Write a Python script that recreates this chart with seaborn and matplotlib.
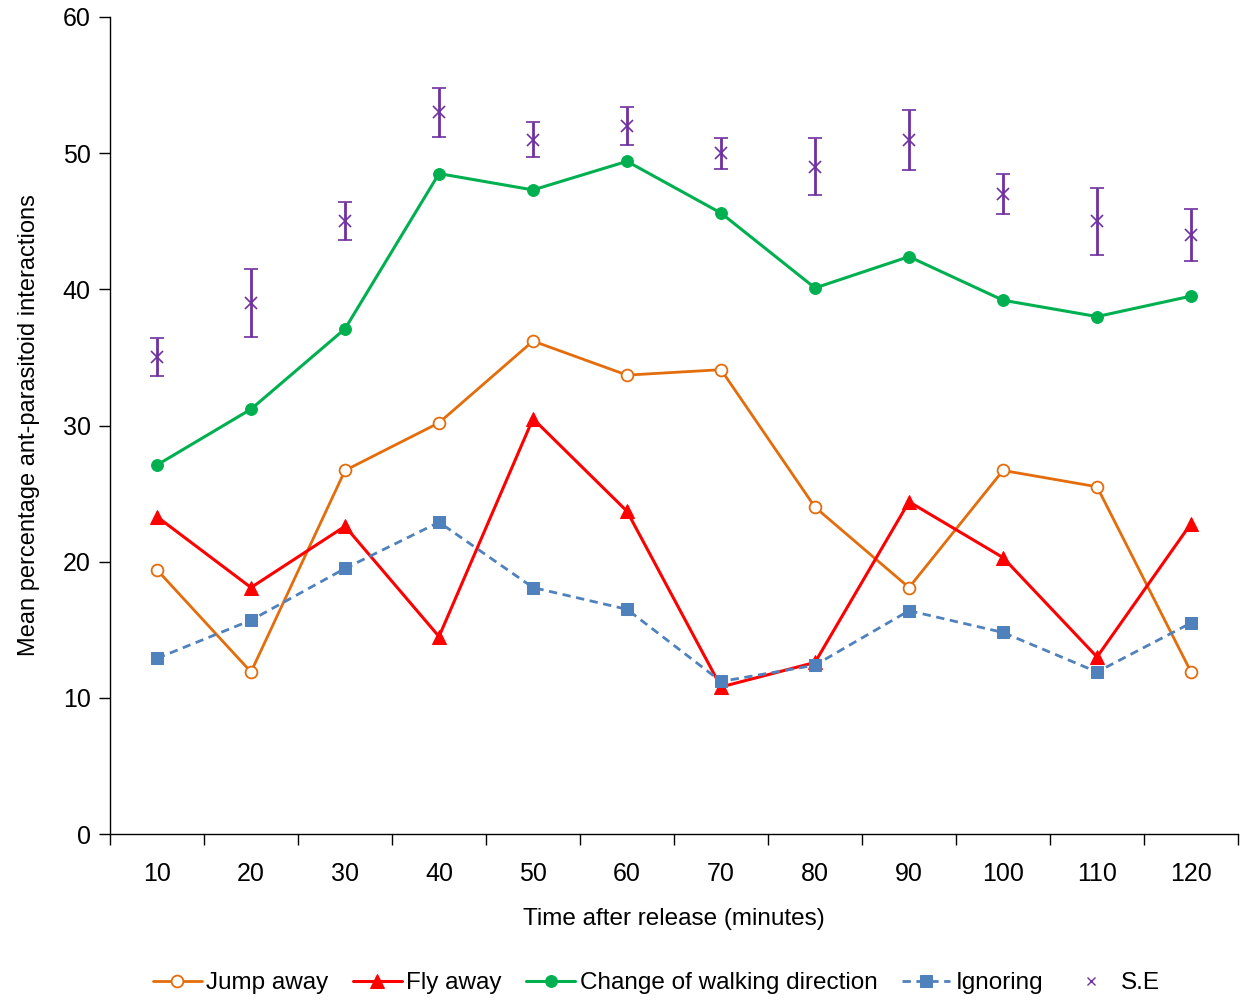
import pandas as pd
import matplotlib.pyplot as plt
from matplotlib.lines import Line2D
import seaborn as sns

# valores
minutos = ['10', '20', '30', '40', '50', '60', '70', '80', '90', '100', '110', '120']
jump_away = [19.4, 11.9, 26.7, 30.2, 36.2, 33.7, 34.1, 24.0, 18.1, 26.7, 25.5, 11.9]
fly_away = [23.3, 18.1, 22.6, 14.5, 30.5, 23.7, 10.8, 12.6, 24.4, 20.3, 13.0, 22.8]
change_dir = [27.1, 31.2, 37.1, 48.5, 47.3, 49.4, 45.6, 40.1, 42.4, 39.2, 38.0, 39.5]
ignoring = [12.9, 15.7, 19.5, 22.9, 18.1, 16.5, 11.2, 12.4, 16.4, 14.8, 11.9, 15.5]
se_media = [35, 39, 45, 53, 51, 52, 50, 49, 51, 47, 45, 44]
se_erro = [1.4, 2.5, 1.4, 1.8, 1.3, 1.4, 1.15, 2.1, 2.2, 1.45, 2.45, 1.9]

pos = list(range(len(minutos)))
df = pd.DataFrame({'pos': pos, 'jump': jump_away, 'fly': fly_away,
                   'change': change_dir, 'ign': ignoring})

sns.set_style('ticks')
plt.rcParams['font.family'] = ['Liberation Sans', 'DejaVu Sans']
plt.rcParams['text.color'] = 'black'
plt.rcParams['axes.labelcolor'] = 'black'
plt.rcParams['xtick.color'] = 'black'
plt.rcParams['ytick.color'] = 'black'

fig = plt.figure(figsize=(12.43, 10), dpi=100)
ax = fig.add_axes([0.0885, 0.166, 0.9075, 0.817])

laranja = '#E46C0A'
vermelho = '#FF0000'
verde = '#00B050'
azul = '#4F81BD'
roxo = '#7030A0'

sns.lineplot(data=df, x='pos', y='jump', ax=ax, color=laranja, lw=2,
             marker='o', markersize=8.5, markerfacecolor='white',
             markeredgecolor=laranja, markeredgewidth=1.3, label='Jump away',
             legend=False)
sns.lineplot(data=df, x='pos', y='fly', ax=ax, color=vermelho, lw=2.2,
             marker='^', markersize=9.5, markeredgecolor=vermelho, label='Fly away',
             legend=False)
sns.lineplot(data=df, x='pos', y='change', ax=ax, color=verde, lw=2.2,
             marker='o', markersize=8.5, markeredgecolor=verde,
             label='Change of walking direction', legend=False)
sns.lineplot(data=df, x='pos', y='ign', ax=ax, color=azul, lw=2,
             linestyle=(0, (3, 2)), marker='s', markersize=8.5,
             markeredgecolor=azul, label='Ignoring', legend=False)
ax.errorbar(pos, se_media, yerr=se_erro, fmt='x', color=roxo, ecolor=roxo,
            markersize=8, markeredgewidth=1.2, elinewidth=2, capsize=5,
            capthick=2)
if ax.get_legend() is not None:
    ax.get_legend().remove()

ax.set_xlim(-0.5, len(minutos) - 0.5)
ax.set_ylim(0, 60)
ax.set_yticks(range(0, 61, 10))
ax.set_xticks(pos)
ax.set_xticklabels(minutos)
ax.set_xticks([p - 0.5 for p in pos] + [len(minutos) - 0.5], minor=True)
ax.tick_params(axis='x', which='major', length=0, labelsize=18, pad=20)
ax.tick_params(axis='x', which='minor', length=8, width=1, color='black')
ax.tick_params(axis='y', length=8, width=1, labelsize=18, color='black', pad=6)
for s in ['left', 'bottom']:
    ax.spines[s].set_color('black')
    ax.spines[s].set_linewidth(1)
sns.despine(ax=ax)

ax.set_xlabel('Time after release (minutes)', fontsize=17.5, labelpad=16)
ax.set_ylabel('Mean percentage ant-parasitoid interactions', fontsize=17, labelpad=16)

h, l = ax.get_legend_handles_labels()
h.append(Line2D([], [], linestyle='none', marker='x', color=roxo,
                markersize=6, markeredgewidth=1))
l.append('S.E')
fig.legend(h, l, loc='lower center', bbox_to_anchor=(0.528, -0.016), ncol=5,
           frameon=False, fontsize=17.5, handlelength=2, handletextpad=0.2,
           columnspacing=1.0)

plt.savefig('out.png', dpi=100)
